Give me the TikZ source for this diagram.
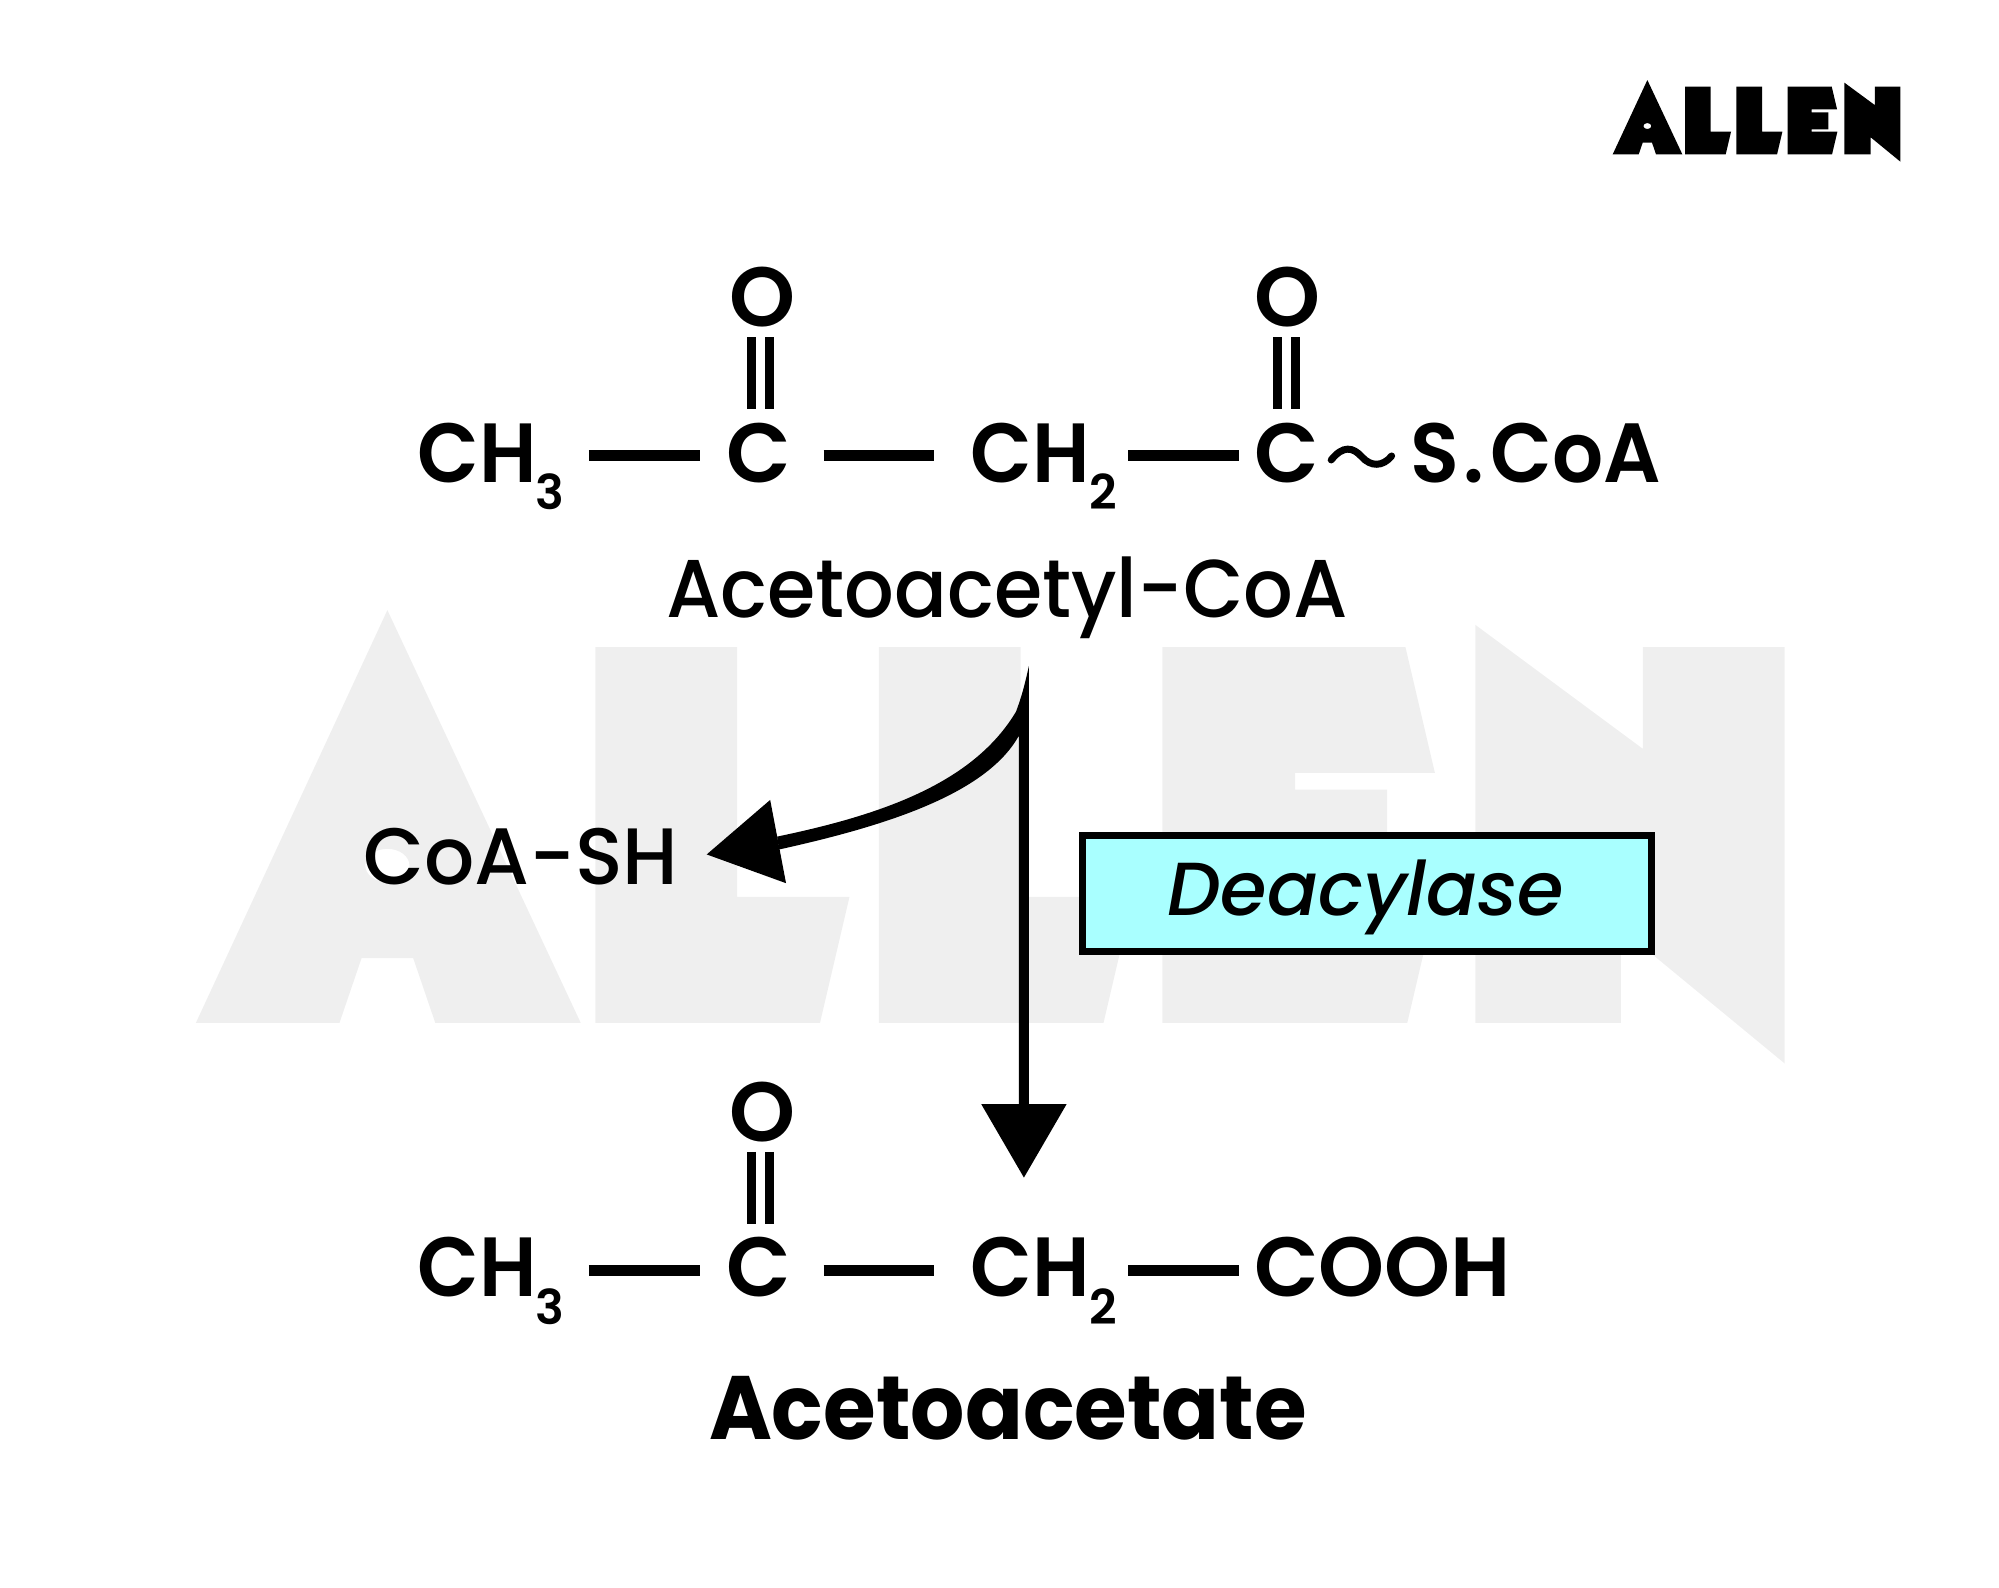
\documentclass[tikz,border=0pt]{standalone}
\usepackage{fontspec}
\setmainfont{Poppins}
\newfontfamily\popm[FakeStretch=0.952]{Poppins Medium}
\newfontfamily\popc[FakeStretch=0.985]{Poppins Medium}
\newfontfamily\popsb{Poppins SemiBold}
\newfontfamily\popn[FakeStretch=0.955]{Poppins SemiBold}
\newfontfamily\popb[FakeStretch=0.948]{Poppins Bold}
\newfontfamily\popi{Poppins Medium Italic}
\definecolor{boxcyan}{HTML}{A9FFFF}
\definecolor{wmark}{HTML}{EFEFEF}
\usetikzlibrary{calc}
\newcommand{\allenpath}[1]{%
\fill[#1] (262,90)--(367,313)--(288,313)--(276,278)--(248,278)--(236,313)--(158,313)--cycle
 (250,228) arc[start angle=180,end angle=-180,x radius=12,y radius=9]
 (375,110)--(452,110)--(452,245)--(513,245)--(497,313)--(375,313)--cycle
 (529,110)--(606,110)--(606,245)--(667,245)--(651,313)--(529,313)--cycle
 (683,110)--(815,110)--(831,178)--(755,178)--(755,187)--(805,187)--(805,238)--(755,238)--(755,245)--(832,245)--(816,313)--(683,313)--cycle
 (853,98)--(944,165)--(944,110)--(1021,110)--(1021,335)--(932,262)--(932,313)--(853,313)--cycle;}
\tikzset{
 chem/.style={anchor=base west,inner sep=0pt,font=\fontsize{42}{48}\selectfont\popsb},
 title/.style={anchor=base,inner sep=0pt,font=\fontsize{41}{48}\selectfont\popm},
 bond/.style={line width=5.5pt},
 dbl/.style={line width=4.5pt},
 head/.style={fill=black,draw=none},
}
\newcommand{\chsub}[1]{{\popn CH}\kern-0.01em\raisebox{-0.33em}{\fontsize{24}{24}\selectfont #1}}
\begin{document}
\begin{tikzpicture}[x=0.5pt,y=-0.5pt]
\useasboundingbox (0,0) rectangle (1999,1587);
% logo
\begin{scope}[shift={(1560,50)},x=0.1667pt,y=-0.1667pt,even odd rule]
\allenpath{black}
\end{scope}
\begin{scope}[x=0.4956pt,y=-0.4956pt]
% watermark
\begin{scope}[shift={(197.6-158*1.857,615.5-90*1.867)},x=0.9205pt,y=-0.9253pt,even odd rule]
\allenpath{wmark}
\end{scope}
% top molecule
\node[chem] (cha) at (421,486.5) {\chsub{3}};
\node[chem] (ca) at (733,486.5) {C};
\node[chem] (chb) at (979,486.5) {\chsub{2}};
\node[chem] (cb) at (1265,486.5) {C};
\node[chem] (scoa) at (1423,486.5) {{\popn S\kern0.05em.\kern0.07em CoA}};
\node[chem,anchor=center] (oa) at (769,300) {O};
\node[chem,anchor=center] (ob) at (1299,300) {O};
\coordinate (a1) at (594,460); \coordinate (a2) at (706,460);
\coordinate (a3) at (831,460); \coordinate (a4) at (942,460);
\coordinate (a5) at (1138,460); \coordinate (a6) at (1250,460);
\draw[bond] (a1)--(a2); \draw[bond] (a3)--(a4); \draw[bond] (a5)--(a6);
\foreach \n/\x in {p/767,q/1298}{
 \coordinate (\n1) at (\x-9,340); \coordinate (\n2) at (\x-9,413);
 \coordinate (\n3) at (\x+9,340); \coordinate (\n4) at (\x+9,413);
 \draw[dbl] (\n1)--(\n2); \draw[dbl] (\n3)--(\n4);
}
\coordinate (t1) at (1343,464); \coordinate (t2) at (1404,460);
\draw[line width=3.5pt,line cap=round] (t1) .. controls (1355,449) and (1365,451) .. (1374,461) .. controls (1383,471) and (1395,471) .. (t2);
\node[title] (acoa) at (1016,623) {Acetoacetyl-CoA};
% arrows
\coordinate (spike) at (1038,672);
\coordinate (tip) at (1033,1188);
\coordinate (tipb) at (713,862);
\fill (spike)--(1038,1120)--(1028,1120)--(1028,742) .. controls (995,802) and (890,834) .. (786,857)--(784,844) .. controls (890,822) and (982,790) .. (1025,718) .. controls (1031,702) and (1034,690) .. (spike)--cycle;
\fill[head] (tip)--(990,1114)--(1076,1114)--cycle;
\fill[head] (tipb)--(777,807)--(793,891)--cycle;
\node[anchor=base west,inner sep=0pt,font=\fontsize{40}{48}\selectfont\popc] (coash) at (366,892) {CoA-SH};
\node[draw=black,line width=3.5pt,fill=boxcyan,minimum width=569*0.5pt,minimum height=116*0.5pt,inner sep=0pt] (deac) at (1379,901) {};
\node[anchor=base,inner sep=0pt,font=\fontsize{37.6}{48}\selectfont\popi] (deact) at (1378,924) {Deacylase};
% bottom molecule
\node[chem] (chc) at (421,1308) {\chsub{3}};
\node[chem] (cc) at (733,1308) {C};
\node[chem] (chd) at (979,1308) {\chsub{2}};
\node[chem] (cooh) at (1265,1308) {COOH};
\node[chem,anchor=center] (oc) at (769,1122) {O};
\coordinate (b1) at (594,1282); \coordinate (b2) at (706,1282);
\coordinate (b3) at (831,1282); \coordinate (b4) at (942,1282);
\coordinate (b5) at (1138,1282); \coordinate (b6) at (1250,1282);
\draw[bond] (b1)--(b2); \draw[bond] (b3)--(b4); \draw[bond] (b5)--(b6);
\coordinate (r1) at (758,1162); \coordinate (r2) at (758,1235);
\coordinate (r3) at (776,1162); \coordinate (r4) at (776,1235);
\draw[dbl] (r1)--(r2); \draw[dbl] (r3)--(r4);
\node[anchor=base,inner sep=0pt,font=\fontsize{45}{50}\selectfont\popb] (aa) at (1017,1452) {Acetoacetate};
\end{scope}
\end{tikzpicture}
\end{document}
